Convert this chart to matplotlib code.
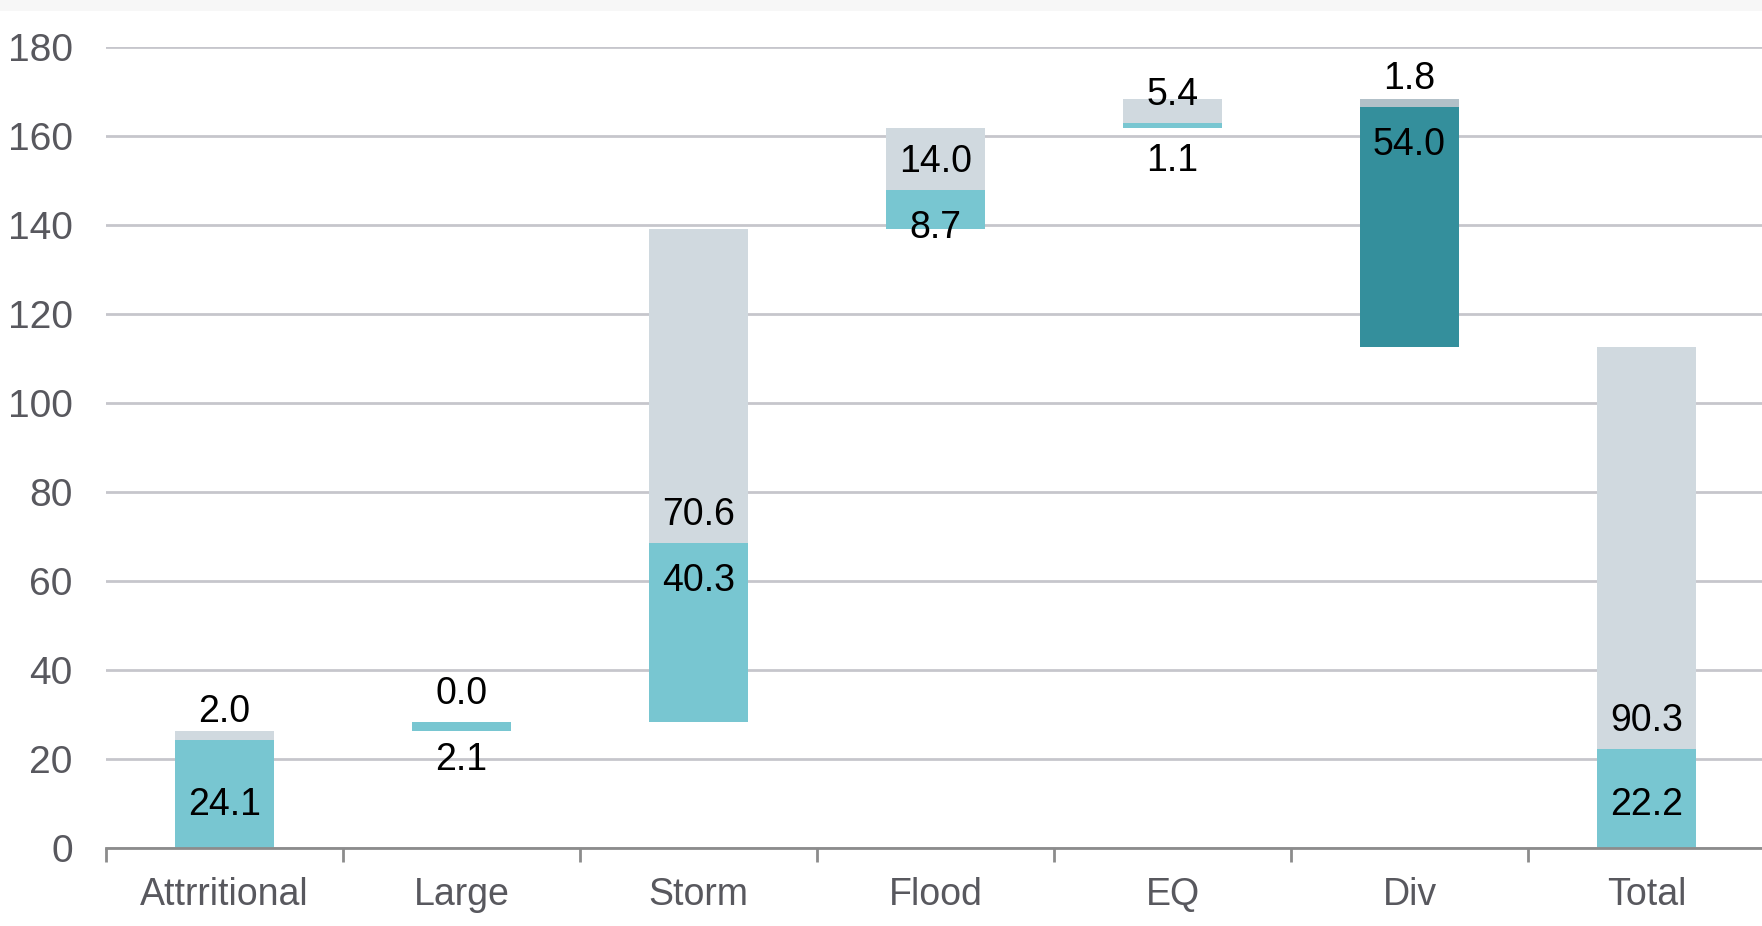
import matplotlib.pyplot as plt
from matplotlib.patches import Rectangle

plt.rcParams['font.family'] = ['Liberation Sans', 'DejaVu Sans']

categories = ['Attrritional', 'Large', 'Storm', 'Flood', 'EQ', 'Div', 'Total']
teal_vals = [24.1, 2.1, 40.3, 8.7, 1.1, -54.0, 22.2]
grey_vals = [2.0, 0.0, 70.6, 14.0, 5.4, -1.8, 90.3]
y_ticks = [0, 20, 40, 60, 80, 100, 120, 140, 160, 180]

TEAL = '#78c6d1'
GREY = '#d0d9df'
DARK_TEAL = '#348f9c'
DARK_GREY = '#b2c0c8'
TICK_COL = '#58585e'

# label offsets from the top of the teal segment (data units)
teal_lbl_off = [None, -7.7, -7.7, -7.7, -7.7, -7.6, None]
grey_lbl_off = 7.2
base_lbl_pos = 10.5  # teal label for bars that sit on the axis

fig = plt.figure(figsize=(17.62, 9.26), dpi=100)
fig.patches.append(Rectangle((0, 1 - 11 / 926), 1, 11 / 926, transform=fig.transFigure,
                             facecolor='#f7f7f7', edgecolor='none', zorder=0))
ax = fig.add_axes([106 / 1762, (926 - 847.5) / 926, (1765 - 106) / 1762, (847.5 - 46.7) / 926])

width = 0.42
running = 0.0
for i, cat in enumerate(categories):
    tv, gv = teal_vals[i], grey_vals[i]
    if cat == 'Total':
        running = 0.0
    if tv >= 0:
        # increase: teal at the bottom, grey on top of it
        ax.bar(i, tv, width, bottom=running, color=TEAL, zorder=3)
        teal_top = running + tv
        ax.bar(i, gv, width, bottom=teal_top, color=GREY, zorder=3)
        end = teal_top + gv
    else:
        # decrease: grey cap first, dark teal below it
        top = running
        ax.bar(i, gv, width, bottom=top, color=DARK_GREY, zorder=3)
        teal_top = top + gv
        ax.bar(i, tv, width, bottom=teal_top, color=DARK_TEAL, zorder=3)
        end = teal_top + tv

    if teal_lbl_off[i] is None:
        ty = base_lbl_pos
    else:
        ty = teal_top + teal_lbl_off[i]
    ax.text(i, ty, f'{abs(tv):.1f}', ha='center', va='center_baseline', fontsize=27,
            color='black', zorder=4)
    ax.text(i, teal_top + grey_lbl_off, f'{abs(gv):.1f}', ha='center', va='center_baseline',
            fontsize=27, color='black', zorder=4)
    running = end

ax.set_xlim(-0.5, 6.5)
ax.set_ylim(0, 180)
ax.set_yticks(y_ticks)
ax.set_xticks(range(len(categories)))
ax.set_xticklabels(categories)
ax.set_xticks([i - 0.5 for i in range(len(categories))], minor=True)

ax.grid(axis='y', color='#c6c6cc', linewidth=2, zorder=0)
ax.set_axisbelow(True)
for side in ['top', 'right', 'left']:
    ax.spines[side].set_visible(False)
ax.spines['bottom'].set_color('#8c8c8c')
ax.spines['bottom'].set_linewidth(2)
ax.spines['bottom'].set_zorder(5)

ax.tick_params(axis='y', length=0, pad=24, labelsize=28, labelcolor=TICK_COL)
ax.tick_params(axis='x', which='major', length=0, pad=21, labelsize=27, labelcolor=TICK_COL)
ax.tick_params(axis='x', which='minor', length=10, width=2, color='#8c8c8c')

fig.savefig('out.png', dpi=100)
